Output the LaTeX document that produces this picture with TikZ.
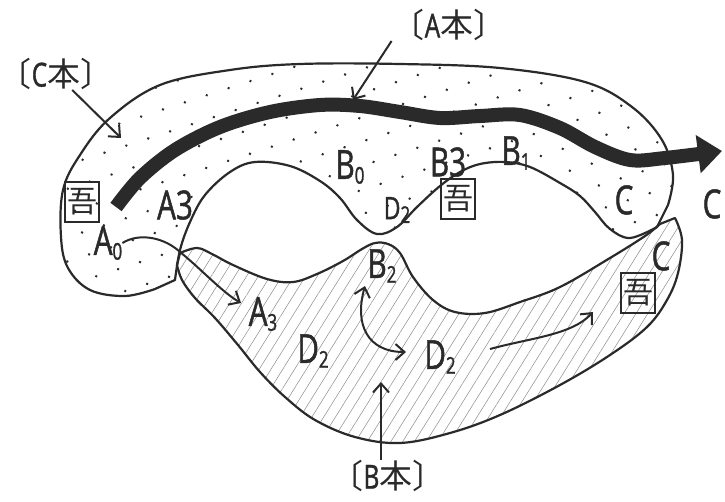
\documentclass[tikz,border=0pt]{standalone}
\usepackage{fontspec}
\setmainfont{Open Sans}[FakeStretch=0.74, FakeBold=1.2]
\newfontfamily\cjk{Noto Sans CJK JP}
\usetikzlibrary{arrows.meta,patterns.meta}
\definecolor{ink}{HTML}{2A2A2A}
\definecolor{hatchc}{HTML}{8C8C8C}
\newcommand\low[1]{\raisebox{-0.12em}{\fontsize{23}{23}\selectfont #1}}
\begin{document}
\begin{tikzpicture}[x=1pt,y=-1pt,
  lbl/.style={font=\fontsize{40}{40}\selectfont, text=ink, inner sep=0pt},
  smalllbl/.style={font=\fontsize{31}{31}\selectfont, text=ink, inner sep=0pt},
  bk/.style={font=\fontsize{33}{33}\selectfont, text=ink, inner sep=0pt},
  gobox/.style={draw=ink, line width=2pt, minimum width=34pt, minimum height=40pt, inner sep=0pt, font=\cjk\fontsize{30}{30}\selectfont, text=ink},
  arr/.style={draw=ink, line width=2pt, -{Straight Barb[length=9pt,width=16pt]}},
  region/.style={draw=ink, line width=2.2pt, line join=round}
]
\useasboundingbox (0,0) rectangle (725,501);
\fill[white] (0,0) rectangle (725,501);

% B region (hatched)
\path[region, pattern={Lines[angle=58,distance=10pt,line width=0.5pt]}, pattern color=hatchc]
  plot[smooth, tension=0.6] coordinates {(180,253) (197,248) (212,254) (233,265) (267,279) (293,282) (317,274) (343,261) (362,249) (375,243) (388,244) (400,253) (413,277) (433,300) (455,312) (485,313) (520,302) (560,287) (610,258) (645,236) (660,224)}
  -- plot[smooth, tension=0.6] coordinates {(675,218) (682,240) (678,273) (667,300) (647,327) (610,355) (560,385) (500,415) (450,433) (400,443) (355,437) (315,420) (285,397) (260,372) (238,345) (215,318) (195,298) (182,280) (177,265)}
  -- cycle;

% C region (dotted)
\path[region, pattern={Dots[distance=23pt,radius=1.4pt,angle=18]}, pattern color=ink]
  plot[smooth, tension=0.6] coordinates {(175,280) (180,250) (190,222) (205,195) (230,172) (255,162) (290,166) (320,181) (340,198) (357,220) (377,234) (397,227) (417,207) (440,186) (460,172) (480,164) (505,162) (530,167) (560,183) (580,196) (595,212) (610,229) (630,238) (657,227)}
  -- plot[smooth, tension=0.6] coordinates {(668,205) (673,175) (662,140) (632,107) (585,82) (500,68) (400,64) (300,64) (230,70) (160,85) (110,118) (80,155) (63,190) (61,237) (68,268) (90,290) (125,296) (155,289)}
  -- cycle;

% thick arrow
\draw[ink, line width=14pt, line cap=butt, -{Triangle[length=24pt,width=37pt]}]
  plot[smooth, tension=0.55] coordinates {(116,207) (140,178) (175,150) (220,127) (270,112) (320,105) (360,106) (400,112) (440,118) (480,116) (520,115) (560,128) (595,147) (630,160) (665,158) (722,151)};

% labels
\node[bk] (cbon) at (56,74) {{\cjk 〔}C{\cjk 本〕}};
\node[bk] (abon) at (449,25) {{\cjk 〔}A{\cjk 本〕}};
\node[bk] (bbon) at (388,476) {{\cjk 〔}B{\cjk 本〕}};

\node[gobox] (go1) at (82,202) {吾};
\node[gobox] (go2) at (458,199) {吾};
\node[gobox] (go3) at (638,293) {吾};

\node[lbl] (a3up) at (175,205) {A3};
\node[lbl] (a0) at (108,243) {A\low{0}};
\node[lbl] (b0) at (350,167) {B\low{0}};
\node[smalllbl] (d2up) at (397,210) {D\low{2}};
\node[lbl] (b3) at (448,162) {B3};
\node[lbl] (b1) at (516,153) {B\low{1}};
\node[lbl] (cin) at (624,200) {C};
\node[lbl] (cout) at (712,204) {C};
\node[lbl] (chatch) at (661,256) {C};
\node[lbl] (b2) at (382,266) {B\low{2}};
\node[lbl] (a3low) at (263,314) {A\low{3}};
\node[lbl] (d2l) at (313,351) {D\low{2}};
\node[lbl] (d2r) at (440,357) {D\low{2}};

% named coordinates
\coordinate (ctip) at (121,138);
\coordinate (atip) at (353,100);
\coordinate (btip) at (381,382);
\coordinate (a3tip) at (241,303);
\coordinate (b2tip) at (365,286);
\coordinate (d2tip) at (406,352);
\coordinate (rstart) at (490,349);
\coordinate (gotip) at (593,312);

% connectors
\draw[arr] (cbon) -- (ctip);
\draw[arr] (abon.south west) -- (atip);
\draw[arr] ([xshift=-7pt]bbon.north) -- (btip);
\draw[arr] (a0.east) .. controls (140,232) and (165,238) .. (180,252) .. controls (200,268) and (222,292) .. (a3tip);
\draw[draw=ink, line width=2pt, {Straight Barb[length=9pt,width=16pt]}-{Straight Barb[length=9pt,width=16pt]}] (b2tip) .. controls (354,325) and (368,352) .. (d2tip);
\draw[arr] (rstart) .. controls (530,338) and (572,335) .. (gotip);
\end{tikzpicture}
\end{document}
